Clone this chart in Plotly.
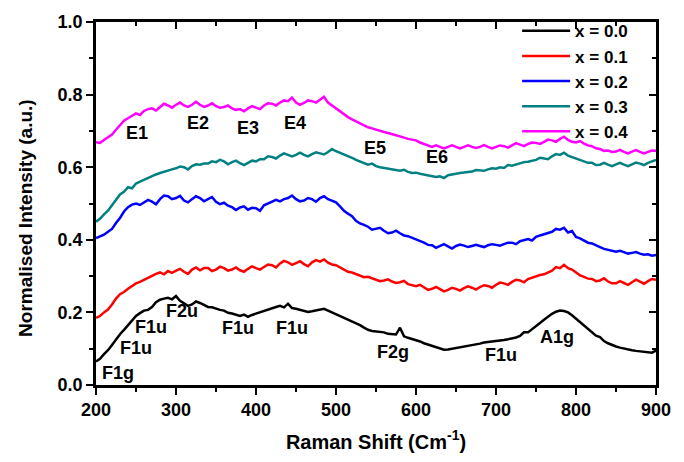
import plotly.graph_objects as go

raman_shift = list(range(200, 901, 5))

int_x00 = [
    0.065, 0.072, 0.085, 0.096, 0.110, 0.126, 0.140, 0.152, 0.165, 0.180,
    0.190, 0.198, 0.205, 0.207, 0.215, 0.228, 0.235, 0.238, 0.240, 0.236,
    0.245, 0.232, 0.226, 0.218, 0.222, 0.230, 0.226, 0.221, 0.215, 0.214,
    0.210, 0.207, 0.205, 0.199, 0.197, 0.193, 0.190, 0.194, 0.188, 0.193,
    0.197, 0.200, 0.205, 0.209, 0.212, 0.215, 0.218, 0.214, 0.224, 0.212,
    0.210, 0.207, 0.205, 0.201, 0.203, 0.206, 0.208, 0.210, 0.205, 0.200,
    0.195, 0.190, 0.185, 0.180, 0.177, 0.170, 0.165, 0.158, 0.152, 0.149,
    0.148, 0.147, 0.145, 0.141, 0.140, 0.139, 0.158, 0.134, 0.130, 0.127,
    0.124, 0.120, 0.115, 0.111, 0.107, 0.103, 0.100, 0.097, 0.098, 0.100,
    0.100, 0.102, 0.104, 0.107, 0.110, 0.112, 0.114, 0.117, 0.118, 0.119,
    0.120, 0.122, 0.124, 0.126, 0.128, 0.131, 0.135, 0.145, 0.145, 0.153,
    0.162, 0.171, 0.180, 0.189, 0.196, 0.202, 0.205, 0.204, 0.200, 0.192,
    0.183, 0.173, 0.163, 0.154, 0.145, 0.136, 0.132, 0.121, 0.115, 0.110,
    0.106, 0.103, 0.100, 0.098, 0.096, 0.094, 0.093, 0.092, 0.090, 0.089,
    0.095,
]

int_x01 = [
    0.185, 0.190, 0.200, 0.208, 0.222, 0.238, 0.250, 0.256, 0.265, 0.272,
    0.280, 0.284, 0.290, 0.296, 0.300, 0.306, 0.310, 0.305, 0.314, 0.309,
    0.315, 0.320, 0.312, 0.306, 0.318, 0.324, 0.316, 0.322, 0.322, 0.314,
    0.318, 0.326, 0.322, 0.315, 0.318, 0.324, 0.316, 0.312, 0.320, 0.327,
    0.322, 0.318, 0.325, 0.332, 0.330, 0.324, 0.335, 0.342, 0.338, 0.331,
    0.336, 0.341, 0.333, 0.327, 0.338, 0.344, 0.340, 0.346, 0.337, 0.332,
    0.330, 0.324, 0.318, 0.312, 0.310, 0.305, 0.302, 0.297, 0.298, 0.294,
    0.292, 0.286, 0.288, 0.291, 0.285, 0.281, 0.283, 0.287, 0.278, 0.274,
    0.272, 0.276, 0.268, 0.262, 0.265, 0.270, 0.264, 0.258, 0.262, 0.268,
    0.265, 0.260, 0.267, 0.272, 0.268, 0.263, 0.270, 0.275, 0.273, 0.268,
    0.276, 0.282, 0.280, 0.276, 0.284, 0.290, 0.288, 0.283, 0.292, 0.296,
    0.298, 0.303, 0.305, 0.311, 0.315, 0.325, 0.322, 0.331, 0.322, 0.318,
    0.310, 0.302, 0.298, 0.293, 0.292, 0.286, 0.288, 0.294, 0.285, 0.280,
    0.280, 0.286, 0.281, 0.276, 0.283, 0.290, 0.285, 0.279, 0.286, 0.292,
    0.290,
]

int_x02 = [
    0.405, 0.410, 0.414, 0.422, 0.430, 0.446, 0.460, 0.478, 0.490, 0.497,
    0.500, 0.496, 0.502, 0.510, 0.505, 0.498, 0.512, 0.522, 0.520, 0.512,
    0.515, 0.521, 0.508, 0.503, 0.512, 0.520, 0.515, 0.506, 0.512, 0.518,
    0.505, 0.498, 0.502, 0.494, 0.490, 0.482, 0.489, 0.492, 0.483, 0.488,
    0.487, 0.480, 0.495, 0.500, 0.503, 0.510, 0.506, 0.512, 0.515, 0.522,
    0.512, 0.506, 0.508, 0.515, 0.512, 0.505, 0.515, 0.520, 0.512, 0.508,
    0.503, 0.492, 0.480, 0.472, 0.465, 0.452, 0.445, 0.441, 0.436, 0.428,
    0.430, 0.433, 0.425, 0.418, 0.420, 0.425, 0.418, 0.412, 0.410, 0.406,
    0.400, 0.397, 0.392, 0.386, 0.385, 0.378, 0.382, 0.388, 0.382, 0.376,
    0.383, 0.387, 0.384, 0.380, 0.383, 0.386, 0.383, 0.380, 0.385, 0.388,
    0.386, 0.384, 0.388, 0.392, 0.392, 0.388, 0.396, 0.400, 0.402, 0.398,
    0.408, 0.412, 0.415, 0.420, 0.422, 0.430, 0.428, 0.433, 0.420, 0.424,
    0.408, 0.404, 0.398, 0.392, 0.390, 0.384, 0.380, 0.375, 0.372, 0.369,
    0.367, 0.370, 0.365, 0.362, 0.364, 0.366, 0.362, 0.359, 0.360, 0.356,
    0.358,
]

int_x03 = [
    0.450, 0.458, 0.470, 0.480, 0.495, 0.510, 0.525, 0.532, 0.545, 0.542,
    0.555, 0.560, 0.565, 0.572, 0.575, 0.580, 0.584, 0.588, 0.590, 0.594,
    0.597, 0.602, 0.600, 0.594, 0.603, 0.608, 0.607, 0.610, 0.610, 0.616,
    0.614, 0.620, 0.616, 0.608, 0.614, 0.618, 0.611, 0.606, 0.612, 0.618,
    0.616, 0.622, 0.622, 0.630, 0.628, 0.624, 0.632, 0.638, 0.634, 0.630,
    0.634, 0.640, 0.634, 0.630, 0.636, 0.641, 0.638, 0.635, 0.642, 0.650,
    0.644, 0.640, 0.635, 0.630, 0.626, 0.620, 0.615, 0.612, 0.607, 0.610,
    0.603, 0.600, 0.598, 0.596, 0.594, 0.590, 0.590, 0.593, 0.587, 0.584,
    0.585, 0.582, 0.580, 0.578, 0.576, 0.573, 0.575, 0.570, 0.578, 0.581,
    0.582, 0.584, 0.585, 0.588, 0.588, 0.592, 0.591, 0.590, 0.594, 0.597,
    0.596, 0.600, 0.598, 0.606, 0.604, 0.608, 0.610, 0.614, 0.615, 0.618,
    0.620, 0.626, 0.625, 0.622, 0.630, 0.636, 0.634, 0.640, 0.632, 0.628,
    0.625, 0.620, 0.618, 0.612, 0.612, 0.606, 0.607, 0.612, 0.607, 0.603,
    0.608, 0.612, 0.607, 0.603, 0.608, 0.613, 0.610, 0.606, 0.612, 0.615,
    0.620,
]

int_x04 = [
    0.669, 0.667, 0.675, 0.682, 0.690, 0.703, 0.715, 0.728, 0.735, 0.742,
    0.748, 0.744, 0.755, 0.760, 0.762, 0.756, 0.766, 0.775, 0.770, 0.764,
    0.772, 0.778, 0.770, 0.766, 0.772, 0.780, 0.772, 0.766, 0.770, 0.776,
    0.768, 0.764, 0.766, 0.770, 0.762, 0.758, 0.760, 0.754, 0.762, 0.768,
    0.764, 0.760, 0.770, 0.776, 0.775, 0.770, 0.778, 0.784, 0.782, 0.792,
    0.778, 0.772, 0.777, 0.784, 0.782, 0.778, 0.786, 0.794, 0.778, 0.770,
    0.762, 0.752, 0.745, 0.738, 0.732, 0.726, 0.720, 0.716, 0.710, 0.707,
    0.703, 0.699, 0.697, 0.694, 0.692, 0.688, 0.685, 0.681, 0.678, 0.676,
    0.674, 0.668, 0.664, 0.658, 0.656, 0.660, 0.655, 0.652, 0.656, 0.660,
    0.656, 0.652, 0.656, 0.660, 0.656, 0.653, 0.656, 0.661, 0.656, 0.652,
    0.656, 0.660, 0.658, 0.654, 0.660, 0.666, 0.662, 0.658, 0.664, 0.668,
    0.667, 0.664, 0.670, 0.676, 0.674, 0.670, 0.678, 0.684, 0.675, 0.670,
    0.668, 0.672, 0.665, 0.660, 0.658, 0.652, 0.650, 0.645, 0.646, 0.642,
    0.643, 0.648, 0.642, 0.638, 0.643, 0.647, 0.642, 0.638, 0.642, 0.646,
    0.645,
]

series_names = ["x = 0.0", "x = 0.1", "x = 0.2", "x = 0.3", "x = 0.4"]
series_values = [int_x00, int_x01, int_x02, int_x03, int_x04]
series_colors = ["#000000", "#FF0000", "#0000FF", "#008080", "#FF00FF"]

peak_labels = ["F1g", "F1u", "F1u", "F2u", "F1u", "F1u", "F2g", "F1u", "A1g",
               "E1", "E2", "E3", "E4", "E5", "E6"]
peak_x = [227, 250, 269, 307, 377, 445, 571, 706, 776,
          251, 328, 390, 449, 549, 626]
peak_y = [0.032, 0.103, 0.160, 0.203, 0.157, 0.157, 0.091, 0.082, 0.132,
          0.694, 0.723, 0.708, 0.723, 0.653, 0.629]

FONT = "Arial, Liberation Sans, sans-serif"

fig = go.Figure()
for name, vals, col in zip(series_names, series_values, series_colors):
    fig.add_trace(go.Scatter(x=raman_shift, y=vals, mode="lines", name=name,
                             line=dict(color=col, width=2.5)))

# invisible trace to activate top/right tick axes
fig.add_trace(go.Scatter(x=[200], y=[0], xaxis="x2", yaxis="y2", mode="markers",
                         marker=dict(opacity=0), showlegend=False, hoverinfo="skip"))

for lab, px, py in zip(peak_labels, peak_x, peak_y):
    fig.add_annotation(x=px, y=py, text=lab, showarrow=False,
                       font=dict(family=FONT, size=18, color="black", weight="bold"))

# y-axis title as annotation (positioned like the reference)
fig.add_annotation(xref="paper", yref="paper", x=-0.127, y=0.46,
                   xanchor="center", yanchor="middle", textangle=-90,
                   text="Normalised Intensity (a.u.)", showarrow=False,
                   font=dict(family=FONT, size=19, color="black", weight="bold"))

tickfont = dict(family=FONT, size=18, color="black", weight="bold")

fig.update_layout(
    width=684, height=462,
    margin=dict(l=96, r=28, t=17, b=73),
    paper_bgcolor="white", plot_bgcolor="white",
    showlegend=True,
    legend=dict(x=0.752, y=1.024, xanchor="left", yanchor="top",
                bgcolor="rgba(0,0,0,0)", borderwidth=0,
                font=dict(family=FONT, size=17, color="black", weight="bold"),
                itemwidth=48, tracegroupgap=0),
    xaxis=dict(range=[200, 900], showline=True, linecolor="black", linewidth=2.5,
               mirror=True, ticks="outside", ticklen=7, tickwidth=2, tickcolor="black",
               dtick=100, tick0=200, showgrid=False, zeroline=False,
               minor=dict(ticks="outside", ticklen=4, tickwidth=2, dtick=50, tickcolor="black"),
               tickfont=tickfont,
               title=dict(text="Raman Shift (Cm<sup>-1</sup>)", standoff=16,
                          font=dict(family=FONT, size=20, color="black", weight="bold"))),
    yaxis=dict(range=[0, 1.0], showline=True, linecolor="black", linewidth=2.5,
               mirror=True, ticks="outside", ticklen=7, tickwidth=2, tickcolor="black",
               dtick=0.2, tick0=0, tickformat=".1f", showgrid=False, zeroline=False,
               minor=dict(ticks="outside", ticklen=4, tickwidth=2, dtick=0.1, tickcolor="black"),
               tickfont=tickfont),
    xaxis2=dict(range=[200, 900], overlaying="x", side="top", showline=False,
                ticks="inside", ticklen=7, tickwidth=2, tickcolor="black",
                dtick=100, tick0=200, showticklabels=False, showgrid=False, zeroline=False,
                minor=dict(ticks="inside", ticklen=4, tickwidth=2, dtick=50, tickcolor="black")),
    yaxis2=dict(range=[0, 1.0], overlaying="y", side="right", showline=False,
                ticks="inside", ticklen=7, tickwidth=2, tickcolor="black",
                dtick=0.2, tick0=0, showticklabels=False, showgrid=False, zeroline=False,
                minor=dict(ticks="inside", ticklen=4, tickwidth=2, dtick=0.1, tickcolor="black")),
)

fig.write_html("out.html")
